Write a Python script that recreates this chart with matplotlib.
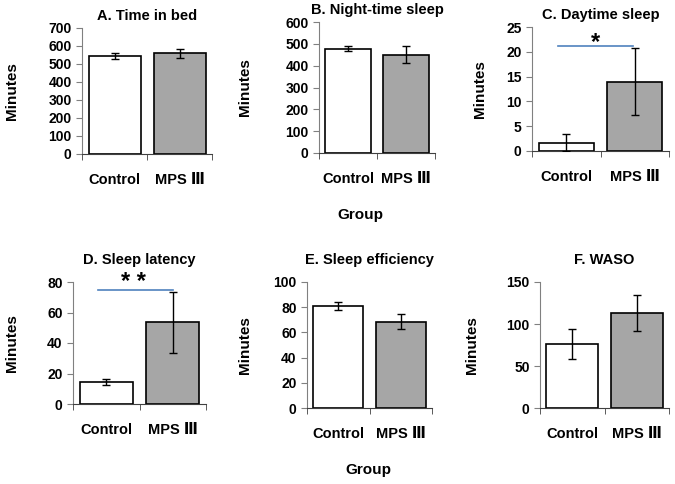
import matplotlib
matplotlib.use("Agg")
import matplotlib.pyplot as plt

plt.rcParams['font.family'] = ['Liberation Sans', 'DejaVu Sans']
plt.rcParams['font.weight'] = 'bold'

groups = ["Control", "MPS \u2162"]
titles = ["A. Time in bed", "B. Night-time sleep", "C. Daytime sleep",
          "D. Sleep latency", "E. Sleep efficiency", "F. WASO"]
means = [[545, 560], [478, 450], [1.7, 14.0], [14.5, 53.5], [81, 68.5], [76, 113]]
errs = [[18, 25], [10, 38], [1.7, 6.8], [2, 20], [3, 6], [17.5, 21.5]]
ymax = [700, 600, 25, 80, 100, 150]
ystep = [100, 100, 5, 20, 20, 50]

# panel rectangles in pixels: left, top, right, bottom
W, H = 675, 484
rects = [(82, 28, 212, 154), (319, 22, 435, 153), (532, 27, 669, 151),
         (73, 282, 206, 404), (307, 282, 432, 408), (540, 282, 669, 408)]
ylab_x = [12, 245, 480, 12, 245, 472]
title_pad = [6, 6, 6, 13, 13, 13]

fig = plt.figure(figsize=(W / 100, H / 100), dpi=100)

for i in range(6):
    l, t, r, b = rects[i]
    ax = fig.add_axes([l / W, 1 - b / H, (r - l) / W, (b - t) / H])
    ax.bar([0, 1], means[i], width=0.8, color=["white", "#a6a6a6"],
           edgecolor="black", linewidth=1.2, zorder=2)
    ax.errorbar([0, 1], means[i], yerr=errs[i], fmt="none", ecolor="black",
                elinewidth=1, capsize=3, capthick=1, zorder=3)
    ax.set_xlim(-0.5, 1.5)
    ax.set_ylim(0, ymax[i])
    ax.set_yticks(range(0, ymax[i] + 1, ystep[i]))
    ax.set_xticks([0, 1])
    ax.set_xticklabels(groups, fontsize=10.5, fontweight="bold")
    ax.set_xticks([-0.5, 0.5, 1.5], minor=True)
    ax.tick_params(axis="x", which="major", length=0, pad=14)
    ax.tick_params(axis="x", which="minor", length=4, color="#404040")
    ax.tick_params(axis="y", length=4, labelsize=10, color="#808080")
    for lab in ax.get_yticklabels():
        lab.set_fontweight("bold")
    for s in ["top", "right"]:
        ax.spines[s].set_visible(False)
    ax.spines["left"].set_color("#808080")
    ax.spines["bottom"].set_color("#404040")
    ax.set_title(titles[i], fontsize=10.5, fontweight="bold", pad=title_pad[i])
    fig.text(ylab_x[i] / W, 1 - ((t + b) / 2) / H, "Minutes", rotation=90,
             ha="center", va="center", fontsize=11, fontweight="bold")

    if i == 2:
        ax.plot([-0.12, 0.97], [21.1, 21.1], color="#4f81bd", lw=1.2, clip_on=False)
        ax.text(0.42, 20.6, "*", ha="center", va="baseline", fontsize=17,
                fontweight="bold", clip_on=False)
    if i == 3:
        ax.plot([-0.12, 1.0], [74.5, 74.5], color="#4f81bd", lw=1.2, clip_on=False)
        ax.text(0.41, 75.5, "* *", ha="center", va="baseline", fontsize=17,
                fontweight="bold", clip_on=False)

fig.text(360 / W, 1 - 215 / H, "Group", ha="center", va="center",
         fontsize=11, fontweight="bold")
fig.text(368 / W, 1 - 470 / H, "Group", ha="center", va="center",
         fontsize=11, fontweight="bold")

fig.savefig("out.png", dpi=100)
